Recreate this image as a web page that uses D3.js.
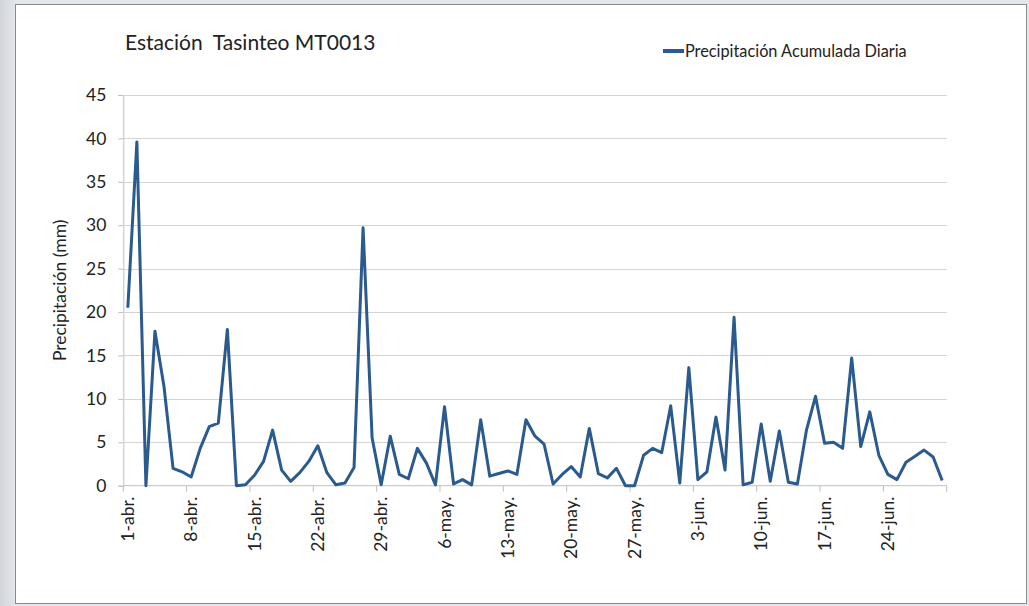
<!DOCTYPE html>
<html>
<head>
<meta charset="utf-8">
<script src="https://cdn.jsdelivr.net/npm/d3@7"></script>
<style>
  html, body { margin: 0; padding: 0; background: #dfe3e7; }
  svg { display: block; }
  text { font-family: Lato, "Open Sans", sans-serif; fill: #222; white-space: pre; }
</style>
</head>
<body>
<script>
// Daily accumulated precipitation (mm), 1 April – 30 June
const startDate = new Date(2013, 3, 1);
const dayCount = 91;
const precipitation = [
  20.5, 39.6, 0.0, 17.8, 11.4, 2.0, 1.6, 1.0, 4.3, 6.8,
  7.2, 18.0, 0.0, 0.1, 1.2, 2.8, 6.4, 1.8, 0.5, 1.5,
  2.8, 4.6, 1.5, 0.1, 0.3, 2.1, 29.7, 5.5, 0.1, 5.7,
  1.3, 0.8, 4.3, 2.6, 0.1, 9.1, 0.2, 0.7, 0.1, 7.6,
  1.1, 1.4, 1.7, 1.3, 7.6, 5.7, 4.8, 0.2, 1.3, 2.2,
  1.0, 6.6, 1.4, 0.9, 2.0, 0.0, 0.0, 3.5, 4.3, 3.8,
  9.2, 0.3, 13.6, 0.7, 1.6, 7.9, 1.8, 19.4, 0.1, 0.4,
  7.1, 0.5, 6.3, 0.4, 0.2, 6.4, 10.3, 4.9, 5.0, 4.3,
  14.7, 4.5, 8.5, 3.5, 1.3, 0.7, 2.7, 3.4, 4.1, 3.3,
  0.6
];
const yTicks = [0, 5, 10, 15, 20, 25, 30, 35, 40, 45];
const monthNames = ["ene.", "feb.", "mar.", "abr.", "may.", "jun.", "jul.", "ago.", "sep.", "oct.", "nov.", "dic."];
const titleText = "Estación  Tasinteo MT0013";
const seriesName = "Precipitación Acumulada Diaria";
const yTitle = "Precipitación (mm)";

const dates = d3.range(dayCount).map(i => d3.timeDay.offset(startDate, i));
const data = dates.map((d, i) => ({ date: d, value: precipitation[i] }));
const fmt = d => `${d.getDate()}-${monthNames[d.getMonth()]}`;

const W = 1029, H = 606;
const svg = d3.select("body").append("svg").attr("width", W).attr("height", H);

// page frame
const defs = svg.append("defs");
const grad = defs.append("linearGradient").attr("id", "side").attr("x1", 0).attr("x2", 1);
grad.append("stop").attr("offset", 0).attr("stop-color", "#cfd5db");
grad.append("stop").attr("offset", 1).attr("stop-color", "#e4e8ec");
svg.append("rect").attr("width", W).attr("height", H).attr("fill", "#e3e7eb");
svg.append("rect").attr("width", 16).attr("height", H).attr("fill", "url(#side)");
svg.append("rect").attr("x", 15.5).attr("y", 4.5).attr("width", 1011).attr("height", 599)
  .attr("fill", "#fff").attr("stroke", "#8a8a8a").attr("stroke-width", 1);

const plot = { left: 123.3, right: 946.7, top: 95, bottom: 485.7 };

const x = d3.scaleBand().domain(dates.map(d => +d)).range([plot.left, plot.right]).padding(0);
const y = d3.scaleLinear().domain([0, 45]).range([plot.bottom, plot.top]);

// value axis with outside ticks, plus horizontal gridlines
const yAxis = svg.append("g").attr("transform", `translate(${plot.left},0)`)
  .call(d3.axisLeft(y).tickValues(yTicks).tickSize(5).tickPadding(12));
yAxis.select(".domain").attr("stroke", "#bfbfbf");
yAxis.selectAll(".tick line").attr("stroke", "#bfbfbf");
yAxis.selectAll(".tick text").attr("font-size", 17.5).attr("fill", "#222");
svg.append("g").selectAll("line").data(yTicks.filter(t => t > 0)).join("line")
  .attr("x1", plot.left).attr("x2", plot.right)
  .attr("y1", d => Math.round(y(d)) + 0.5).attr("y2", d => Math.round(y(d)) + 0.5)
  .attr("stroke", "#d4d4d4").attr("stroke-width", 1);

// category axis: a tick every 7 days at the band's left edge
const weekly = dates.filter((d, i) => i % 7 === 0);
const xg = svg.append("g").attr("transform", `translate(0,${plot.bottom})`);
xg.append("line").attr("x1", plot.left).attr("x2", plot.right).attr("y1", 0).attr("y2", 0)
  .attr("stroke", "#bfbfbf");
const tickXs = weekly.map(d => x(+d)).concat([plot.right]);
xg.selectAll("line.tk").data(tickXs).join("line").attr("class", "tk")
  .attr("x1", d => d).attr("x2", d => d).attr("y1", 0).attr("y2", 6)
  .attr("stroke", "#bfbfbf");
xg.selectAll("text").data(weekly).join("text")
  .attr("transform", d => `translate(${x(+d) + x.bandwidth() / 2 + 6},11) rotate(-90)`)
  .attr("text-anchor", "end").attr("font-size", 17.5).text(fmt);

// series line
const line = d3.line().x(d => x(+d.date) + x.bandwidth() / 2).y(d => y(d.value));
svg.append("path").datum(data).attr("d", line)
  .attr("fill", "none").attr("stroke", "#2b5a8e").attr("stroke-width", 3)
  .attr("stroke-linejoin", "round");

// title, legend, axis title
svg.append("text").attr("x", 125).attr("y", 50).attr("font-size", 21).text(titleText);
svg.append("line").attr("x1", 663).attr("x2", 684).attr("y1", 51).attr("y2", 51)
  .attr("stroke", "#2b5a8e").attr("stroke-width", 4);
svg.append("text").attr("x", 685).attr("y", 56.5).attr("font-size", 16.3).text(seriesName);
svg.append("text").attr("transform", `translate(66,${(plot.top + plot.bottom) / 2}) rotate(-90)`)
  .attr("text-anchor", "middle").attr("font-size", 17.5).text(yTitle);
</script>
</body>
</html>
